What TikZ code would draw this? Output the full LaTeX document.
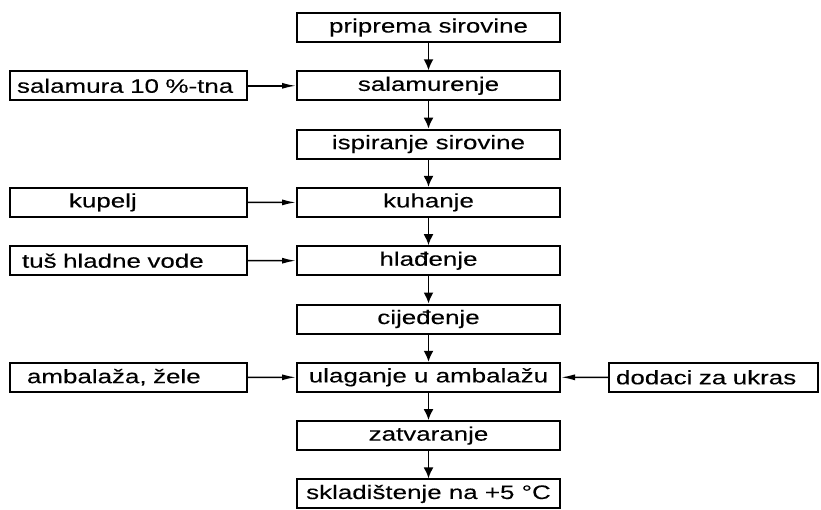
\documentclass[tikz,border=0pt]{standalone}
\usepackage{fontspec}
\setmainfont{Liberation Sans}[FakeStretch=1.33, FakeBold=0.15]
\usetikzlibrary{arrows.meta}

\tikzset{
  korak/.style={draw, line width=2pt, minimum width=263pt, minimum height=29pt,
    inner sep=0pt, font=\fontsize{19.5pt}{21pt}\selectfont},
  dodatak/.style={draw, line width=2pt, minimum height=29pt, inner xsep=7pt,
    inner ysep=0pt, align=left, font=\fontsize{19.5pt}{21pt}\selectfont},
  dolje/.style={-{Latex[length=11pt,width=10pt]}, line width=1.8pt},
  bocno/.style={-{Latex[length=14pt,width=6pt]}, line width=1.5pt},
}

\begin{document}
\begin{tikzpicture}[x=1pt, y=-1pt]
  \useasboundingbox (0,0) rectangle (821,509);

  % glavni tok
  \foreach \i/\txt in {1/{priprema sirovine}, 2/{salamurenje},
      3/{ispiranje sirovine}, 4/{kuhanje}, 5/{hlađenje}, 6/{cijeđenje},
      7/{ulaganje u ambalažu}, 8/{zatvaranje}, 9/{skladištenje na +5 °C}} {
    \node[korak] (k-\i) at (428.5, {27.5+58.3*(\i-1)}) {\txt};
  }

  \foreach \from/\to in {1/2, 2/3, 3/4, 4/5, 5/6, 6/7, 7/8, 8/9} {
    \draw[dolje] (k-\from) -- (k-\to);
  }

  % dodaci
  \node[dodatak, text width=223pt] (salamura) at (128.5, 85.8) {salamura 10 \%-tna};
  \node[dodatak, text width=223pt] (kupelj) at (128.5, 202.4) {\hspace*{52pt}kupelj};
  \node[dodatak, text width=223pt] (tus) at (128.5, 260.7) {\hspace*{5pt}tuš hladne vode};
  \node[dodatak, text width=223pt] (ambalaza) at (128.5, 377.3) {\hspace*{10pt}ambalaža, žele};
  \node[dodatak, text width=195pt] (ukras) at (713.5, 377.3) {dodaci za ukras};

  \draw[bocno] (salamura) -- (k-2);
  \draw[bocno] (kupelj) -- (k-4);
  \draw[bocno] (tus) -- (k-5);
  \draw[bocno] (ambalaza) -- (k-7);
  \draw[bocno] (ukras) -- (k-7);

\end{tikzpicture}
\end{document}
